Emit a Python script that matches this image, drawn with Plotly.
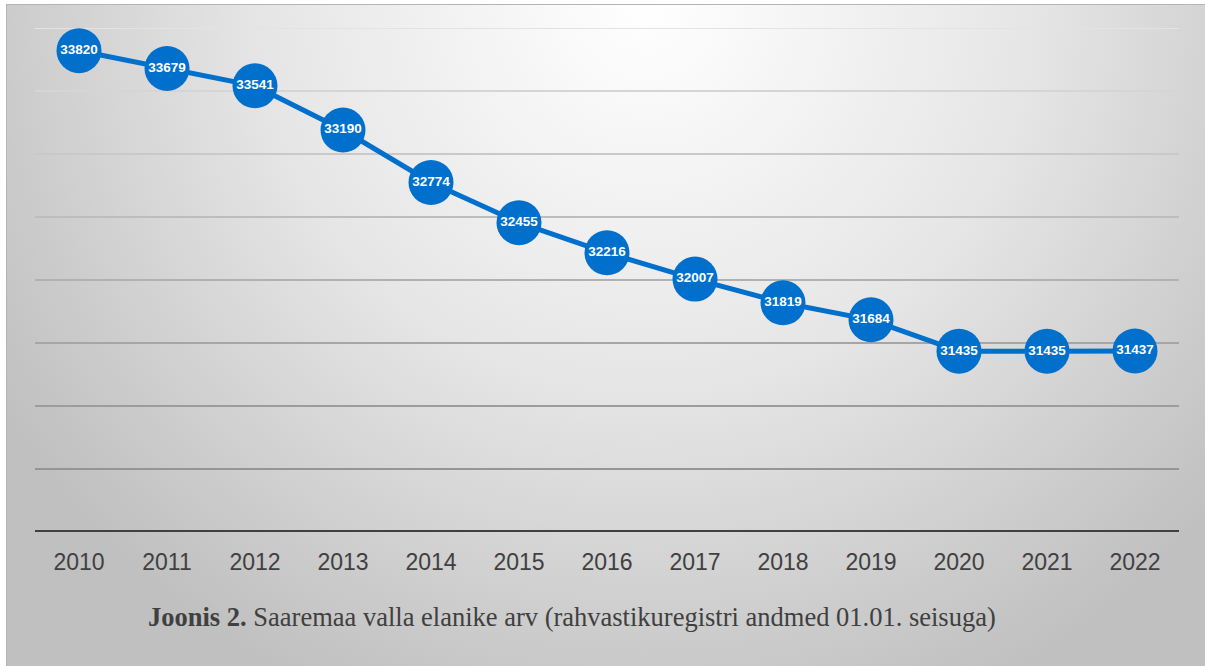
import base64
import plotly.graph_objects as go

years = ["2010", "2011", "2012", "2013", "2014", "2015", "2016",
         "2017", "2018", "2019", "2020", "2021", "2022"]
population = [33820, 33679, 33541, 33190, 32774, 32455, 32216,
              32007, 31819, 31684, 31435, 31435, 31437]
grid_values = [30500, 31000, 31500, 32000, 32500, 33000, 33500, 34000]
grid_colors = ["#959595", "#9c9c9c", "#a6a6a6", "#b1b1b1",
               "#bdbdbd", "#c9c9c9", "#d5d5d5", "#e3e3e3"]
caption = ("<b>Joonis 2.</b> Saaremaa valla elanike arv "
           "(rahvastikuregistri andmed 01.01. seisuga)")

W, H = 1205, 666
L, R, T, B = 35, 26, 28, 134

svg = (
    '<svg xmlns="http://www.w3.org/2000/svg" width="1200" height="662" '
    'viewBox="0 0 1200 662" preserveAspectRatio="none">'
    '<defs><radialGradient id="g" gradientUnits="userSpaceOnUse" '
    'cx="640" cy="0" r="760">'
    '<stop offset="0" stop-color="#ffffff"/>'
    '<stop offset="0.5" stop-color="#e6e6e6"/>'
    '<stop offset="0.85" stop-color="#cbcbcb"/>'
    '<stop offset="1" stop-color="#c0c0c0"/>'
    '</radialGradient></defs>'
    '<rect x="0" y="0" width="1200" height="662" fill="url(#g)"/></svg>'
)
src = "data:image/svg+xml;base64," + base64.b64encode(svg.encode()).decode()

pw = W - L - R
ph = H - T - B


def px_x(p):
    return (p - L) / pw


def px_y(p):
    return (H - B - p) / ph


fig = go.Figure()
fig.add_trace(go.Scatter(
    x=years, y=population, mode="lines+markers+text",
    line=dict(color="#0070cc", width=5),
    marker=dict(color="#0070cc", size=45, line=dict(width=0)),
    text=[str(v) for v in population], textposition="middle center",
    textfont=dict(color="white", size=13.5, family="Liberation Sans", weight="bold"),
    cliponaxis=False, hoverinfo="x+y", showlegend=False,
))

shapes = [dict(type="rect", xref="paper", yref="paper",
               x0=px_x(6.5), x1=px_x(1215), y0=px_y(680), y1=px_y(4.5),
               line=dict(color="#b4b4b4", width=1), layer="below")]
for v, c in zip(grid_values, grid_colors):
    shapes.append(dict(type="line", xref="paper", yref="y", x0=0, x1=1,
                       y0=v, y1=v, line=dict(color=c, width=2), layer="below"))
shapes.append(dict(type="line", xref="paper", yref="y", x0=0, x1=1,
                   y0=30000, y1=30000, line=dict(color="#404040", width=4),
                   layer="below"))

fig.update_layout(
    width=W, height=H,
    margin=dict(l=L, r=R, t=T, b=B),
    paper_bgcolor="white", plot_bgcolor="rgba(0,0,0,0)",
    images=[dict(source=src, xref="paper", yref="paper",
                 x=px_x(6), y=px_y(4), sizex=px_x(1206) - px_x(6),
                 sizey=px_y(4) - px_y(666), xanchor="left", yanchor="top",
                 sizing="stretch", layer="below")],
    shapes=shapes,
    xaxis=dict(type="category", range=[-0.5, 12.5], showgrid=False,
               showline=False, zeroline=False, ticks="",
               tickfont=dict(family="Liberation Sans", size=23, color="#404040"),
               ticklabelstandoff=14),
    yaxis=dict(range=[30000, 34000], showgrid=False, showticklabels=False,
               zeroline=False, showline=False),
    annotations=[dict(text=caption, xref="paper", yref="paper",
                      x=px_x(572), y=px_y(617), xanchor="center",
                      yanchor="middle", showarrow=False,
                      font=dict(family="Liberation Serif", size=26.5,
                                color="#404040"))],
)

fig.write_html("out.html", config={"displayModeBar": False},
               post_script="document.body.style.margin='0';"
                           "document.body.style.overflow='hidden';")
